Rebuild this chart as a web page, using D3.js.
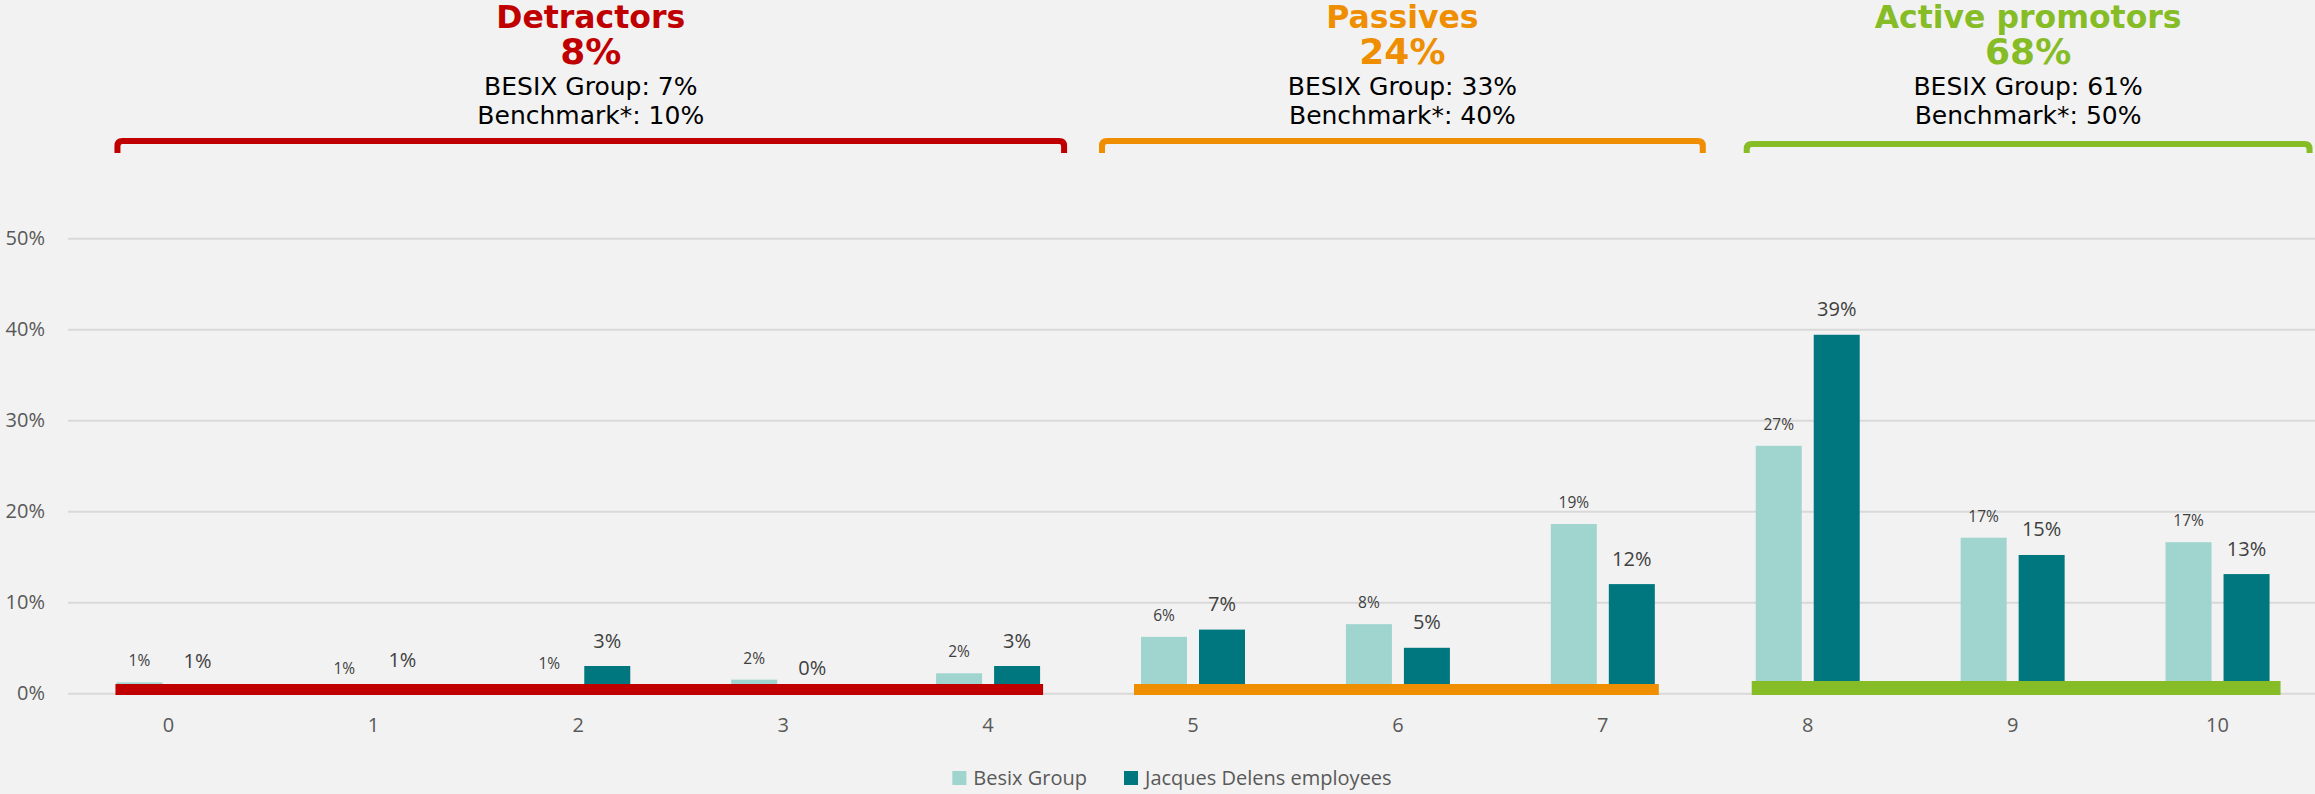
<!DOCTYPE html>
<html>
<head>
<meta charset="utf-8">
<script src="https://cdn.jsdelivr.net/npm/d3@7"></script>
<style>
  html, body { margin: 0; padding: 0; background: #f2f2f2; }
  svg { display: block; }
</style>
</head>
<body>
<script>
// data (values in %)
const categories = ["0", "1", "2", "3", "4", "5", "6", "7", "8", "9", "10"];
const seriesNames = ["Besix Group", "Jacques Delens employees"];
const besixValues = [1.2, 0.4, 0.9, 1.5, 2.2, 6.2, 7.6, 18.6, 27.2, 17.1, 16.6];
const delensValues = [0.8, 0.9, 3.0, 0, 3.0, 7.0, 5.0, 12.0, 39.4, 15.2, 13.1];
const besixLabels = ["1%", "1%", "1%", "2%", "2%", "6%", "8%", "19%", "27%", "17%", "17%"];
const delensLabels = ["1%", "1%", "3%", "0%", "3%", "7%", "5%", "12%", "39%", "15%", "13%"];
const yTicks = [0, 10, 20, 30, 40, 50];

const groupNames = ["Detractors", "Passives", "Active promotors"];
const groupScores = ["8%", "24%", "68%"];
const groupBesix = ["7%", "33%", "61%"];
const groupBenchmark = ["10%", "40%", "50%"];
const groupFirst = ["0", "5", "8"];
const groupLast = ["4", "7", "10"];

// styles / layout
const groupColors = ["#c00000", "#ee8e00", "#86bc25"];
const barColors = ["#9fd4cf", "#00767e"];
const bracketPad = [[-54, 79], [-94, 103], [-64, 95]];
const bracketTop = [141, 141, 144];
const bandPad = [[-53, 55], [-59, 56], [-56, 63]];
const bandTop = [684, 684, 681];

const canvWidth = 2315, canvHeight = 794;
const svg = d3.select("body").append("svg")
    .attr("width", canvWidth)
    .attr("height", canvHeight)
    .style("background", "#f2f2f2");

const plotLeft = 66, plotRight = 2320;
const xScale = d3.scaleBand().domain(categories).range([plotLeft, plotRight]).padding(0);
const yScale = d3.scaleLinear().domain([0, 50]).range([693.3, 238.3]);
const xInner = d3.scaleBand().domain(seriesNames)
    .range([xScale.bandwidth() / 2 - 52, xScale.bandwidth() / 2 + 52])
    .paddingInner(0.207);

// gridlines
const grid = svg.append("g")
    .attr("transform", "translate(68,0)")
    .call(d3.axisLeft(yScale).tickValues(yTicks).tickSize(-(canvWidth - 68)).tickFormat(""));
grid.select(".domain").remove();
grid.selectAll("line").attr("stroke", "#d9d9d9").attr("stroke-width", 2);

// y axis labels
const yAxis = svg.append("g")
    .attr("transform", "translate(45,0)")
    .call(d3.axisLeft(yScale).tickValues(yTicks).tickSize(0).tickPadding(0).tickFormat(d => d + "%"));
yAxis.select(".domain").remove();
yAxis.selectAll("text")
    .attr("font-family", "Open Sans")
    .attr("font-size", "20px")
    .attr("fill", "#595959");

// x axis labels
const xAxis = svg.append("g")
    .attr("transform", "translate(0," + yScale(0) + ")")
    .call(d3.axisBottom(xScale).tickSize(0).tickPadding(25));
xAxis.select(".domain").remove();
xAxis.selectAll("text")
    .attr("font-family", "Open Sans")
    .attr("font-size", "20px")
    .attr("fill", "#595959");

// bars
const rows = categories.map((c, i) => ({
    cat: c,
    vals: [
        { s: seriesNames[0], v: besixValues[i], label: besixLabels[i] },
        { s: seriesNames[1], v: delensValues[i], label: delensLabels[i] }
    ]
}));

const catG = svg.selectAll("g.cat")
    .data(rows)
    .enter().append("g")
    .attr("class", "cat")
    .attr("transform", d => "translate(" + xScale(d.cat) + ",0)");

catG.selectAll("rect")
    .data(d => d.vals)
    .enter().append("rect")
    .attr("x", d => xInner(d.s))
    .attr("width", xInner.bandwidth())
    .attr("y", d => yScale(d.v))
    .attr("height", d => yScale(0) - yScale(d.v))
    .attr("fill", (d, i) => barColors[i]);

catG.selectAll("text")
    .data(d => d.vals)
    .enter().append("text")
    .attr("x", d => xInner(d.s) + xInner.bandwidth() / 2)
    .attr("y", (d, i) => yScale(d.v) - (i === 0 ? 16 : 18.5))
    .attr("text-anchor", "middle")
    .attr("font-family", "Open Sans")
    .attr("font-size", (d, i) => i === 0 ? "15.5px" : "20px")
    .attr("fill", "#404040")
    .text(d => d.label);

// group bands along the baseline
groupNames.forEach((name, i) => {
    const x1 = xScale(groupFirst[i]) + xScale.bandwidth() / 2 + bandPad[i][0];
    const x2 = xScale(groupLast[i]) + xScale.bandwidth() / 2 + bandPad[i][1];
    svg.append("rect")
        .attr("x", x1)
        .attr("y", bandTop[i])
        .attr("width", x2 - x1)
        .attr("height", 695 - bandTop[i])
        .attr("fill", groupColors[i]);
});

// brackets and headers
groupNames.forEach((name, i) => {
    const left = xScale(groupFirst[i]) + xScale.bandwidth() / 2 + bracketPad[i][0] + 3;
    const right = xScale(groupLast[i]) + xScale.bandwidth() / 2 + bracketPad[i][1] - 3;
    const top = bracketTop[i], bottom = 153, r = 5;
    const path = d3.path();
    path.moveTo(left, bottom);
    path.lineTo(left, top + r);
    path.quadraticCurveTo(left, top, left + r, top);
    path.lineTo(right - r, top);
    path.quadraticCurveTo(right, top, right, top + r);
    path.lineTo(right, bottom);
    svg.append("path")
        .attr("d", path.toString())
        .attr("fill", "none")
        .attr("stroke", groupColors[i])
        .attr("stroke-width", 6);

    const cx = (left + right) / 2;
    const head = svg.append("g").attr("text-anchor", "middle").attr("font-family", "DejaVu Sans");
    head.append("text").attr("x", cx).attr("y", 28)
        .attr("font-size", "31.5px").attr("font-weight", "bold").attr("fill", groupColors[i])
        .text(name);
    head.append("text").attr("x", cx).attr("y", 64)
        .attr("font-size", "36px").attr("font-weight", "bold").attr("fill", groupColors[i])
        .text(groupScores[i]);
    head.append("text").attr("x", cx).attr("y", 95)
        .attr("font-size", "25px").attr("fill", "#000")
        .text("BESIX Group: " + groupBesix[i]);
    head.append("text").attr("x", cx).attr("y", 124)
        .attr("font-size", "25px").attr("fill", "#000")
        .text("Benchmark*: " + groupBenchmark[i]);
});

// legend
const legend = svg.append("g");
let lx = 0;
seriesNames.forEach((s, i) => {
    const item = legend.append("g").attr("transform", "translate(" + lx + ",0)");
    item.append("rect").attr("x", 0).attr("y", -7).attr("width", 14).attr("height", 14).attr("fill", barColors[i]);
    const t = item.append("text").attr("x", 21).attr("y", 0).attr("dy", "0.35em")
        .attr("font-family", "Open Sans").attr("font-size", "20px").attr("fill", "#595959")
        .text(s);
    lx += 21 + t.node().getComputedTextLength() + 37;
});
const legendWidth = lx - 37;
legend.attr("transform", "translate(" + (1172 - legendWidth / 2) + ",778)");
</script>
</body>
</html>
